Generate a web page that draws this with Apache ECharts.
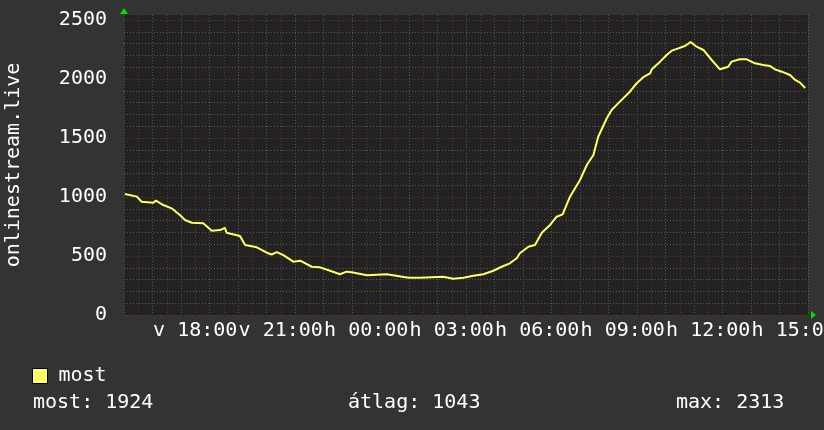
<!DOCTYPE html>
<html>
<head>
<meta charset="utf-8">
<script src="https://cdn.jsdelivr.net/npm/echarts@6/dist/echarts.min.js"></script>
<style>
	html, body { margin: 0; padding: 0; background: #333333; }
	#main { width: 824px; height: 430px; }
</style>
</head>
<body>
<div id="main"></div>
<script>
// hours since sunday 00:00 (24 = monday 00:00)
var hours = [15.53, 15.95, 16.12, 16.53, 16.62, 16.88, 17.17, 17.46, 17.64, 17.88,
	18.28, 18.58, 18.87, 19.04, 19.10, 19.57, 19.75, 20.16, 20.51, 20.68,
	20.86, 21.09, 21.44, 21.68, 22.09, 22.38, 22.73, 23.08, 23.31, 23.49,
	24.02, 24.72, 25.48, 25.89, 26.70, 27.05, 27.41, 27.76, 28.11, 28.46,
	28.75, 29.04, 29.28, 29.39, 29.69, 29.92, 30.16, 30.45, 30.68, 30.89,
	31.15, 31.50, 31.74, 31.97, 32.14, 32.44, 32.61, 32.90, 33.25, 33.49,
	33.72, 33.96, 34.02, 34.31, 34.54, 34.72, 34.95, 35.18, 35.38, 35.59,
	35.83, 36.12, 36.41, 36.59, 36.70, 36.82, 37.11, 37.35, 37.40, 37.64,
	37.93, 38.17, 38.34, 38.58, 38.87, 39.05, 39.22, 39.40];
var most = [1025, 1003, 960, 952, 969, 932, 904, 848, 805, 782,
	777, 714, 720, 738, 697, 670, 593, 574, 528, 513,
	533, 508, 452, 460, 409, 404, 375, 345, 367, 362,
	336, 345, 316, 316, 325, 308, 316, 333, 345, 375,
	409, 438, 481, 523, 579, 593, 697, 763, 833, 853,
	1003, 1144, 1271, 1356, 1511, 1667, 1737, 1808, 1892, 1964,
	2015, 2048, 2082, 2147, 2204, 2240, 2260, 2280, 2313, 2274,
	2246, 2161, 2082, 2096, 2104, 2147, 2167, 2167, 2176, 2133,
	2119, 2110, 2082, 2062, 2034, 1992, 1969, 1924];
var yTicks = [0, 500, 1000, 1500, 2000, 2500];
var dayNames = ['v', 'h'];
var statNames = ['most', 'átlag', 'max'];
var statValues = [1924, 1043, 2313];

var font = '"DejaVu Sans Mono", monospace';
var gray = '#575757';
var red = '#6e3030';

var points = [];
for(var i = 0; i < hours.length; i++) {
	points.push([hours[i], most[i]]);
}

var myChart = echarts.init(document.getElementById('main'), null, { renderer: 'canvas' });

var statX = [33, 348, 676];
var graphics = [{
	type: 'polygon',
	shape: { points: [[120, 14], [128, 14], [124, 8]] },
	style: { fill: '#00e000' },
	z: 10
}, {
	type: 'polygon',
	shape: { points: [[811, 311], [811, 319], [816, 315]] },
	style: { fill: '#00e000' },
	z: 10
}];
for(var k = 0; k < statNames.length; k++) {
	graphics.push({
		type: 'text',
		left: statX[k],
		top: 393,
		style: {
			text: statNames[k] + ': ' + statValues[k],
			fill: '#ffffff',
			font: '20px ' + font
		}
	});
}

var option = {
	backgroundColor: '#333333',
	animation: false,
	grid: {
		left: 124,
		top: 15,
		width: 684,
		height: 300,
		containLabel: false,
		outerBoundsMode: 'none',
		show: true,
		backgroundColor: '#222222',
		borderWidth: 0
	},
	legend: {
		data: ['most'],
		left: 32,
		top: 366,
		padding: 0,
		icon: 'rect',
		itemWidth: 15,
		itemHeight: 15,
		itemStyle: { borderColor: '#000', borderWidth: 1 },
		textStyle: { color: '#ffffff', fontSize: 20, fontFamily: font, padding: [0, 0, 0, 6] }
	},
	xAxis: {
		type: 'value',
		min: 15.5,
		max: 39.5,
		interval: 0.5,
		axisLine: { show: false },
		axisTick: { show: false },
		axisLabel: {
			color: '#ffffff',
			fontSize: 20,
			fontFamily: font,
			margin: 6,
			hideOverlap: false,
			formatter: function(v) {
				var h = Math.round(v * 2) / 2;
				if(h % 1 !== 0 || (h - 18) % 3 !== 0) return '';
				var day = dayNames[Math.floor(h / 24)];
				var hh = h % 24;
				return day + ' ' + (hh < 10 ? '0' : '') + hh + ':00';
			}
		},
		splitLine: {
			show: true,
			lineStyle: { color: [gray, red], type: [1, 2], width: 1 }
		}
	},
	yAxis: {
		type: 'value',
		min: 0,
		max: 2542.4,
		interval: 100,
		name: 'onlinestream.live',
		nameLocation: 'middle',
		nameGap: 100,
		nameTextStyle: { color: '#ffffff', fontSize: 20, fontFamily: font },
		axisLine: { show: false },
		axisTick: { show: false },
		axisLabel: {
			color: '#ffffff',
			fontSize: 20,
			fontFamily: font,
			margin: 17,
			showMaxLabel: false,
			formatter: function(v) {
				var r = Math.round(v);
				return yTicks.indexOf(r) >= 0 ? String(r) : '';
			}
		},
		splitLine: {
			show: true,
			showMaxLine: false,
			lineStyle: { color: [red, gray, gray, gray, gray], type: [1, 2], width: 1 }
		}
	},
	series: [{
		name: 'most',
		type: 'line',
		data: points,
		showSymbol: false,
		symbol: 'none',
		color: '#ffff66',
		lineStyle: { color: '#ffff66', width: 2 },
		z: 5
	}],
	graphic: graphics
};

myChart.setOption(option);
</script>
</body>
</html>
